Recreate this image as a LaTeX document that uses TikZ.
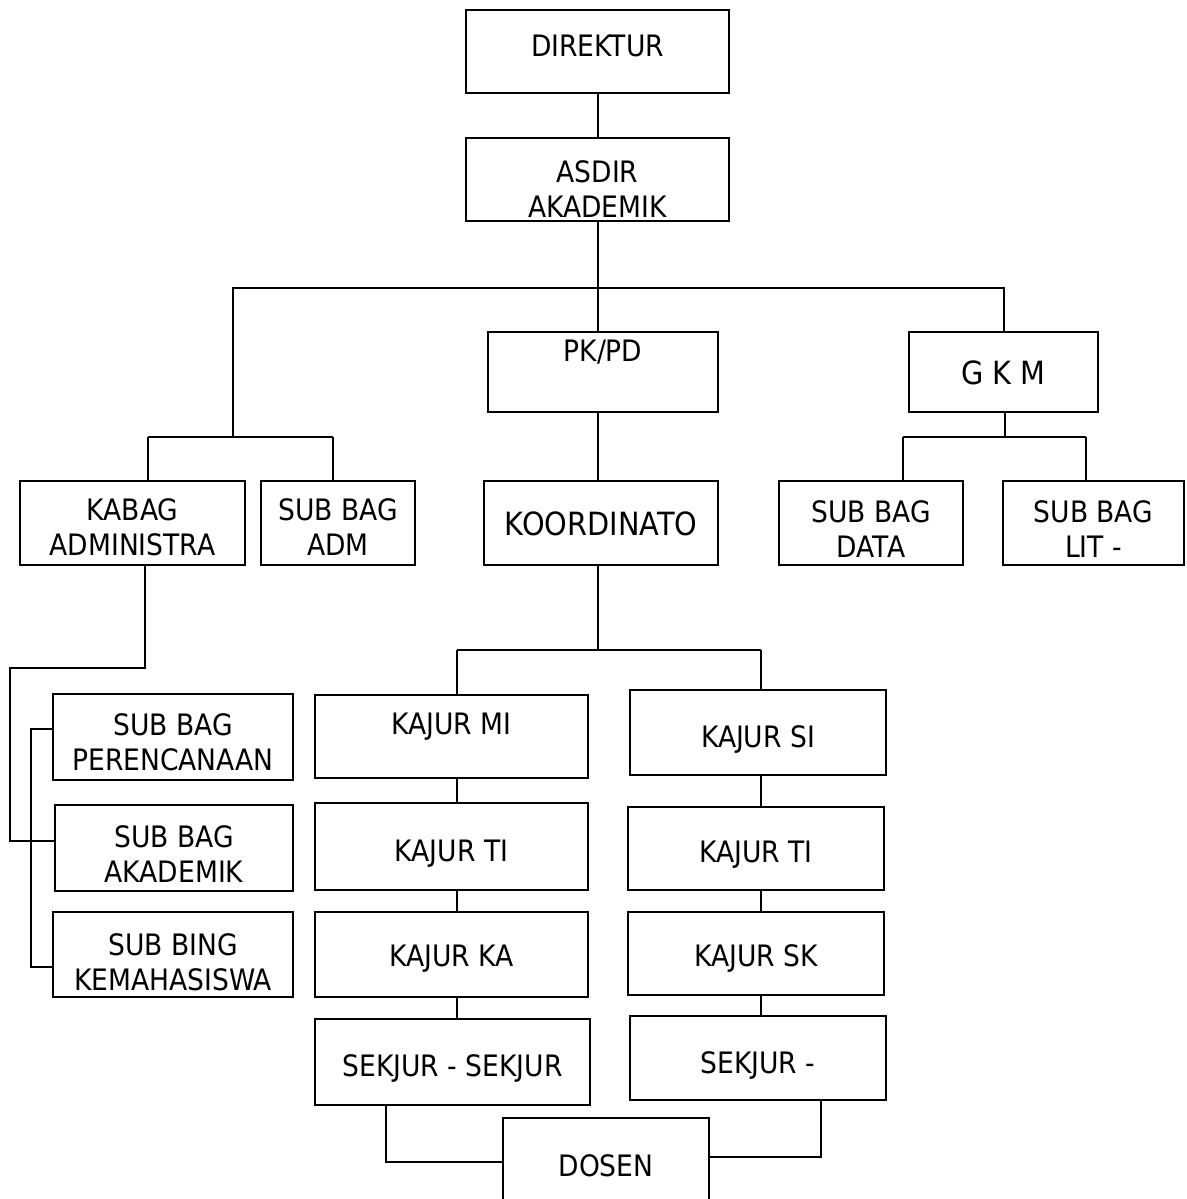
\documentclass[tikz,border=0pt]{standalone}
\usepackage{fontspec}
\setmainfont{DejaVu Sans}[FakeStretch=0.9]
\usetikzlibrary{fit}
\newcommand\twoline[2]{\begin{tabular}[t]{@{}c@{}}#1\\#2\end{tabular}}
\begin{document}
\begin{tikzpicture}[x=1pt,y=-1pt,
  box/.style={draw,line width=2pt,inner sep=0pt},
  txt/.style={anchor=base,inner sep=0pt,font=\fontsize{29.5}{35}\selectfont},
  bigtxt/.style={anchor=base,inner sep=0pt,font=\fontsize{32}{38}\selectfont},
  wire/.style={line width=2pt}]
\clip (0,0) rectangle (1186,1199);
\fill[white] (0,0) rectangle (1186,1199);
% boxes
\node[box,fit={(466,10)(729,93)}] (dir) {};
\node[box,fit={(466,138)(729,221)}] (asdir) {};
\node[box,fit={(488,332)(718,412)}] (pkpd) {};
\node[box,fit={(909,332)(1098,412)}] (gkm) {};
\node[box,fit={(20,481)(245,565)}] (kabag) {};
\node[box,fit={(261,481)(415,565)}] (subadm) {};
\node[box,fit={(484,481)(718,565)}] (koor) {};
\node[box,fit={(779,481)(963,565)}] (subdata) {};
\node[box,fit={(1003,481)(1184,565)}] (sublit) {};
\node[box,fit={(53,694)(293,780)}] (subper) {};
\node[box,fit={(55,805)(293,891)}] (subak) {};
\node[box,fit={(53,912)(293,997)}] (subbing) {};
\node[box,fit={(315,695)(588,778)}] (kmi) {};
\node[box,fit={(630,690)(886,775)}] (ksi) {};
\node[box,fit={(315,803)(588,890)}] (ktil) {};
\node[box,fit={(628,807)(884,890)}] (ktir) {};
\node[box,fit={(315,912)(588,997)}] (kka) {};
\node[box,fit={(628,912)(884,995)}] (ksk) {};
\node[box,fit={(315,1019)(590,1105)}] (sekl) {};
\node[box,fit={(630,1016)(886,1100)}] (sekr) {};
\node[box,fit={(503,1118)(709,1230)}] (dosen) {};
% texts
\node[txt] (dir-t) at (597.5,57) {DIREKTUR};
\node[txt] (asdir-t) at (597.5,182) {\twoline{ASDIR}{AKADEMIK}};
\node[txt] (pkpd-t) at (603,361) {PK/PD};
\node[bigtxt] (gkm-t) at (1003.5,384) {G K M};
\node[txt] (kabag-t) at (132.5,520) {\twoline{KABAG}{ADMINISTRA}};
\node[txt] (subadm-t) at (338,520) {\twoline{SUB BAG}{ADM}};
\node[bigtxt] (koor-t) at (601,535) {KOORDINATO};
\node[txt] (subdata-t) at (871,522) {\twoline{SUB BAG}{DATA}};
\node[txt] (sublit-t) at (1093.5,522) {\twoline{SUB BAG}{LIT -}};
\node[txt] (subper-t) at (173,735) {\twoline{SUB BAG}{PERENCANAAN}};
\node[txt] (subak-t) at (174,847) {\twoline{SUB BAG}{AKADEMIK}};
\node[txt] (subbing-t) at (173,955) {\twoline{SUB BING}{KEMAHASISWA}};
\node[txt] (kmi-t) at (451.5,734) {KAJUR MI};
\node[txt] (ksi-t) at (758,747) {KAJUR SI};
\node[txt] (ktil-t) at (451.5,861) {KAJUR TI};
\node[txt] (ktir-t) at (756,862) {KAJUR TI};
\node[txt] (kka-t) at (451.5,966) {KAJUR KA};
\node[txt] (ksk-t) at (756,966) {KAJUR SK};
\node[txt] (sekl-t) at (452.5,1076) {SEKJUR - SEKJUR};
\node[txt] (sekr-t) at (758,1073) {SEKJUR -};
\node[txt] (dosen-t) at (606,1176) {DOSEN};
% junction coordinates
\coordinate (j1) at (597.5,288);
\coordinate (jl) at (233,437);
\coordinate (jll) at (148,437);
\coordinate (jlr) at (333,437);
\coordinate (jg) at (1005,437);
\coordinate (jgl) at (903,437);
\coordinate (jgr) at (1086,437);
\coordinate (ka) at (145,668);
\coordinate (ka2) at (10,668);
\coordinate (jk) at (597.5,650);
\coordinate (cl) at (457,650);
\coordinate (cr) at (761,650);
\coordinate (d1) at (386,1162);
\coordinate (d2) at (821,1157);
% connectors
\draw[wire] (dir.south) -- (asdir.north);
\draw[wire] (asdir.south) -- (j1);
\draw[wire] (j1) -| (jl);
\draw[wire] (j1) -| (gkm.north);
\draw[wire] (j1) -- (pkpd.north -| j1);
\draw[wire] (jll) -- (jlr);
\draw[wire] (jll) -- (jll |- kabag.north);
\draw[wire] (jlr) -- (jlr |- subadm.north);
\draw[wire] (gkm.south -| jg) -- (jg);
\draw[wire] (jgl) -- (jgr);
\draw[wire] (jgl) -- (jgl |- subdata.north);
\draw[wire] (jgr) -- (jgr |- sublit.north);
\draw[wire] (pkpd.south -| j1) -- (koor.north -| j1);
\draw[wire] (ka |- kabag.south) -- (ka) -- (ka2) |- ([yshift=7pt]subak.west);
\draw[wire] ([yshift=8pt]subper.west) -- ++(-21,0) |- ([yshift=-12pt]subbing.west);
\draw[wire] (koor.south -| jk) -- (jk);
\draw[wire] (cl) -- (cr);
\draw[wire] (cl) -- (cl |- kmi.north);
\draw[wire] (cr) -- (cr |- ksi.north);
\draw[wire] (kmi.south -| cl) -- (ktil.north -| cl);
\draw[wire] (ktil.south -| cl) -- (kka.north -| cl);
\draw[wire] (kka.south -| cl) -- (sekl.north -| cl);
\draw[wire] (ksi.south -| cr) -- (ktir.north -| cr);
\draw[wire] (ktir.south -| cr) -- (ksk.north -| cr);
\draw[wire] (ksk.south -| cr) -- (sekr.north -| cr);
\draw[wire] (d1 |- sekl.south) -- (d1) -- (d1 -| dosen.west);
\draw[wire] (d2 |- sekr.south) -- (d2) -- (d2 -| dosen.east);
\end{tikzpicture}
\end{document}
